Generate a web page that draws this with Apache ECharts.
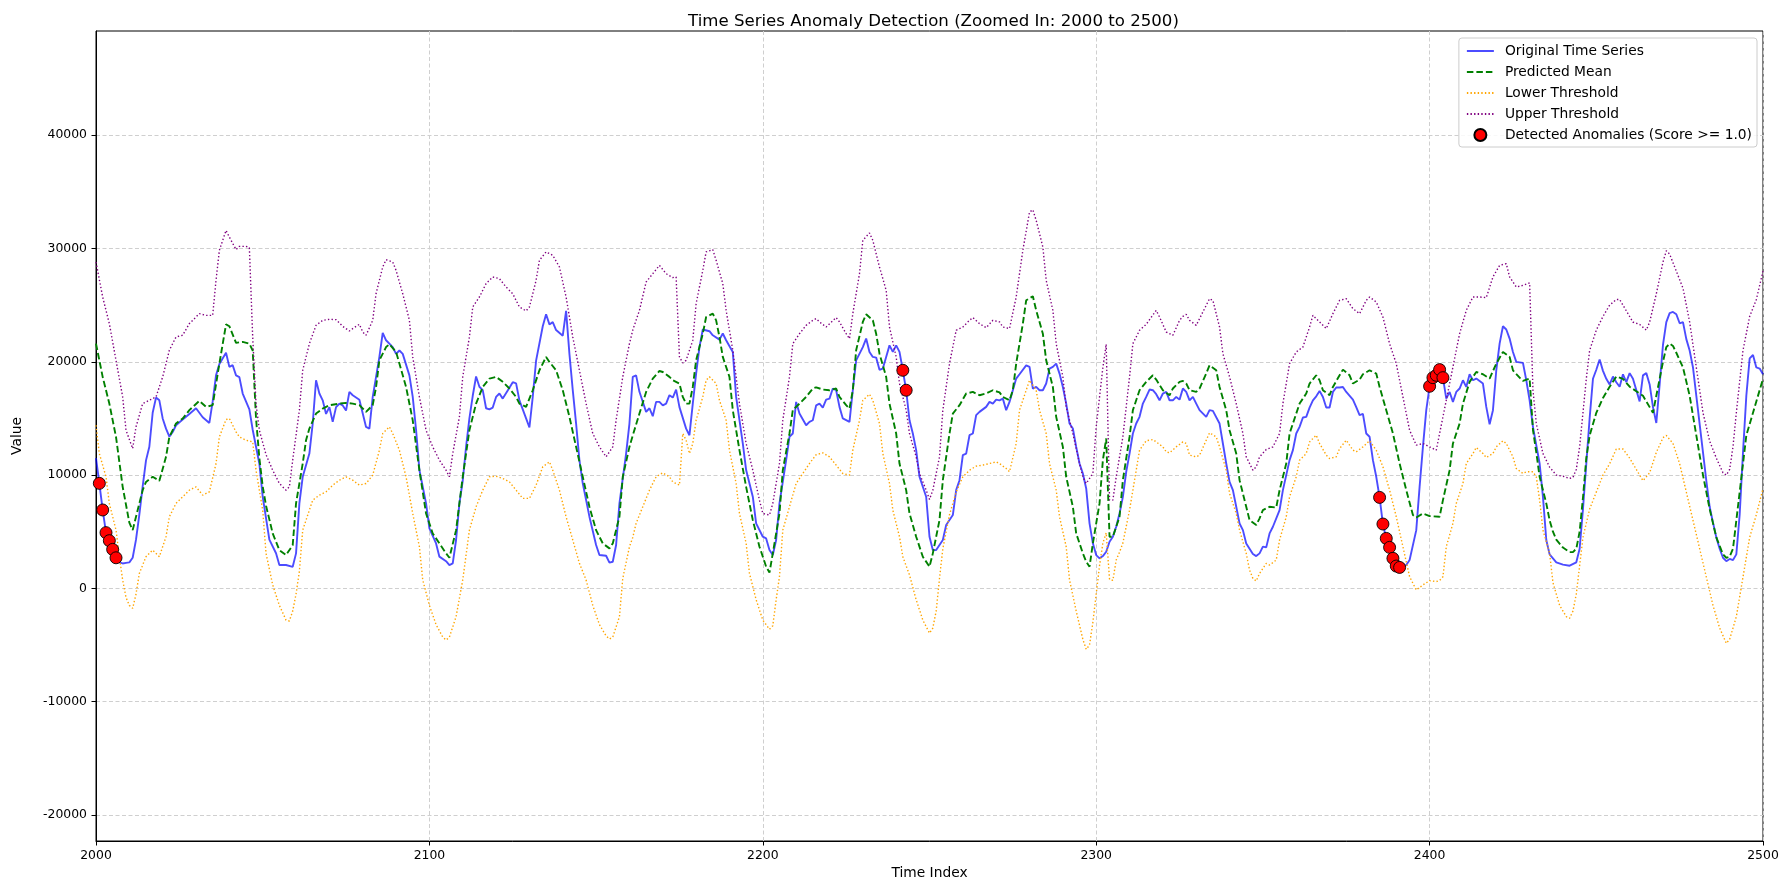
<!DOCTYPE html>
<html>
<head>
<meta charset="utf-8">
<script src="https://cdn.jsdelivr.net/npm/echarts@6/dist/echarts.min.js"></script>
<style>html,body{margin:0;padding:0;background:#fff}#c{width:1789px;height:889px}</style>
</head>
<body>
<div id="c"></div>
<script>
const titleText = 'Time Series Anomaly Detection (Zoomed In: 2000 to 2500)';
const seriesNames = ['Original Time Series', 'Predicted Mean', 'Lower Threshold', 'Upper Threshold', 'Detected Anomalies (Score >= 1.0)'];
const xTicks = [2000, 2100, 2200, 2300, 2400, 2500];
const yTicks = [-20000, -10000, 0, 10000, 20000, 30000, 40000];

const original = [[2000,11500],[2001,9270],[2002,6920],[2003,4920],[2004,4210],[2005,3440],[2006,2700],[2007,2300],[2008,2200],[2009,2250],[2010,2300],[2011,2700],[2012,4300],[2013,6500],[2014,9000],[2015,11300],[2016,12500],[2017,15500],[2018,16840],[2019,16600],[2020,15000],[2021,14100],[2022,13400],[2023,13800],[2024,14400],[2026,14900],[2028,15400],[2030,15900],[2032,15100],[2034,14600],[2035,16500],[2036,18800],[2037,19800],[2039,20800],[2040,19550],[2041,19700],[2042,18800],[2043,18650],[2044,17200],[2046,15800],[2047,14000],[2049,11000],[2050,8100],[2052,4300],[2054,3100],[2055,2060],[2057,2060],[2059,1900],[2060,3090],[2061,7500],[2062,9850],[2064,11900],[2065,14550],[2066,18370],[2067,17200],[2068,16600],[2069,15400],[2070,16000],[2071,14700],[2072,16000],[2073,16300],[2074,16150],[2075,15700],[2076,17350],[2077,17050],[2079,16650],[2081,14250],[2082,14100],[2083,16900],[2085,20440],[2086,22550],[2087,21900],[2089,21300],[2090,20700],[2091,21000],[2092,20700],[2094,18800],[2095,16900],[2096,14000],[2097,10450],[2099,7500],[2100,5300],[2102,3970],[2103,2800],[2105,2400],[2106,2060],[2107,2200],[2108,4270],[2109,7500],[2110,9500],[2111,12500],[2112,15000],[2113,17000],[2114,18700],[2115,17800],[2116,17500],[2117,15900],[2118,15800],[2119,15960],[2120,16900],[2121,17200],[2122,16750],[2124,17700],[2125,18200],[2126,18100],[2127,16600],[2129,15000],[2130,14200],[2131,16900],[2132,20100],[2134,23140],[2135,24200],[2136,23300],[2137,23500],[2138,22800],[2140,22300],[2141,24500],[2142,20700],[2143,17500],[2144,14550],[2145,11300],[2146,9270],[2148,6330],[2150,3830],[2151,2950],[2153,2880],[2154,2270],[2155,2350],[2156,3830],[2157,7500],[2159,11900],[2160,14550],[2161,18670],[2162,18800],[2163,17350],[2165,15580],[2166,15900],[2167,15200],[2168,16460],[2169,16460],[2170,16150],[2171,16300],[2172,17050],[2173,16840],[2174,17550],[2175,16000],[2177,14100],[2178,13520],[2179,16300],[2180,18960],[2181,21300],[2182,22850],[2184,22700],[2185,22340],[2187,21960],[2188,22500],[2189,21900],[2191,20870],[2192,16900],[2194,12800],[2195,10440],[2197,8090],[2198,5740],[2200,4560],[2201,4410],[2202,3380],[2203,2940],[2204,4270],[2205,7500],[2207,11320],[2208,13380],[2209,13670],[2210,16460],[2211,15430],[2213,14400],[2214,14700],[2215,14840],[2216,16150],[2217,16300],[2218,15960],[2219,16660],[2220,16750],[2221,17640],[2222,17490],[2223,16020],[2224,15000],[2226,14700],[2227,17490],[2228,20130],[2230,21300],[2231,22050],[2232,20870],[2233,20430],[2234,20370],[2235,19300],[2236,19400],[2237,20430],[2238,21450],[2239,20870],[2240,21450],[2241,20870],[2242,19250],[2243,17490],[2244,14840],[2245,13670],[2246,12200],[2247,9850],[2249,8090],[2250,4560],[2251,3380],[2252,3380],[2254,4270],[2255,5590],[2257,6470],[2258,8680],[2259,9550],[2260,11760],[2261,11900],[2262,13520],[2263,13670],[2264,15290],[2265,15580],[2267,16020],[2268,16460],[2269,16310],[2270,16660],[2271,16600],[2272,16750],[2273,15730],[2274,16460],[2275,17490],[2276,18520],[2277,18900],[2279,19690],[2280,19550],[2281,17640],[2282,17780],[2283,17490],[2284,17490],[2285,18080],[2286,19400],[2287,19550],[2288,19840],[2289,18960],[2290,17780],[2291,16310],[2292,14550],[2293,14110],[2294,12490],[2295,11020],[2296,10140],[2297,8820],[2298,5740],[2299,3980],[2300,2940],[2301,2650],[2302,2850],[2303,3230],[2304,4120],[2305,4560],[2306,5440],[2307,6610],[2308,8080],[2309,10290],[2310,11900],[2311,13670],[2312,14550],[2313,15140],[2314,16310],[2315,16900],[2316,17550],[2317,17490],[2318,17140],[2319,16600],[2320,17200],[2321,17340],[2322,16600],[2323,16600],[2324,16900],[2325,16660],[2326,17640],[2327,17340],[2328,16600],[2329,16900],[2330,16310],[2331,15730],[2333,15140],[2334,15730],[2335,15670],[2337,14550],[2338,12790],[2339,11020],[2340,9400],[2341,8670],[2342,7200],[2343,5730],[2344,5140],[2345,3970],[2347,3030],[2348,2850],[2349,3090],[2350,3680],[2351,3620],[2352,4850],[2353,5440],[2355,6910],[2356,8670],[2358,11320],[2359,12200],[2360,13670],[2361,14260],[2362,15080],[2363,15140],[2364,15960],[2365,16600],[2366,16950],[2367,17430],[2368,16900],[2369,15960],[2370,15960],[2371,17340],[2372,17730],[2373,17730],[2374,17780],[2375,17340],[2377,16660],[2378,16000],[2379,15300],[2380,15400],[2381,13670],[2382,13380],[2383,11320],[2384,9850],[2385,8030],[2386,5680],[2387,4410],[2388,3620],[2389,2650],[2390,1970],[2391,1850],[2393,2060],[2394,2500],[2396,5140],[2397,8960],[2398,12490],[2399,15730],[2400,17840],[2401,18600],[2402,18810],[2403,19310],[2404,18600],[2405,16750],[2406,17340],[2407,16460],[2408,17340],[2409,17640],[2410,18370],[2411,17780],[2412,18900],[2413,18370],[2414,18520],[2416,18080],[2417,16020],[2418,14490],[2419,15730],[2420,19250],[2421,21600],[2422,23140],[2423,22850],[2424,22050],[2425,20870],[2426,19990],[2428,19900],[2429,18370],[2430,16600],[2431,14260],[2433,11020],[2434,8080],[2435,4270],[2436,3000],[2438,2300],[2440,2100],[2442,2000],[2444,2300],[2445,3500],[2446,7000],[2447,11000],[2448,15000],[2449,18500],[2450,19300],[2451,20200],[2452,19200],[2453,18500],[2454,18000],[2455,18700],[2456,18200],[2457,17800],[2458,18900],[2459,18200],[2460,19000],[2461,18500],[2462,17500],[2463,16500],[2464,18800],[2465,19000],[2466,18000],[2467,16000],[2468,14600],[2469,18000],[2470,21500],[2471,23500],[2472,24300],[2473,24400],[2474,24200],[2475,23400],[2476,23500],[2477,22000],[2478,21000],[2479,19500],[2480,17000],[2481,14500],[2482,12000],[2483,9500],[2484,7200],[2485,5800],[2486,4500],[2487,3500],[2488,2700],[2489,2400],[2490,2600],[2491,2500],[2492,3000],[2493,6500],[2494,12000],[2495,17000],[2496,20300],[2497,20600],[2498,19500],[2499,19400],[2500,18900]];

const predicted = [[2000,21600],[2002,18670],[2004,16310],[2006,13370],[2008,8960],[2010,5800],[2011,5140],[2012,6320],[2014,8670],[2015,9400],[2017,9850],[2019,9490],[2021,11610],[2022,13370],[2024,14550],[2026,14990],[2028,15730],[2031,16550],[2033,16020],[2035,16170],[2037,19840],[2039,23300],[2040,23140],[2042,21670],[2044,21760],[2046,21600],[2047,21000],[2048,15000],[2049,11500],[2050,9000],[2051,7300],[2053,4850],[2055,3380],[2057,2940],[2059,3820],[2060,7500],[2062,11020],[2063,13080],[2064,14110],[2066,15430],[2068,15870],[2070,16170],[2073,16310],[2075,16370],[2077,16310],[2079,16170],[2081,15580],[2083,16170],[2084,17780],[2085,20130],[2087,21300],[2088,21550],[2090,20870],[2091,19840],[2093,17780],[2095,14840],[2097,10430],[2099,6610],[2101,4850],[2103,3970],[2105,3090],[2106,2700],[2108,5140],[2110,9850],[2112,13960],[2114,16310],[2116,17780],[2118,18520],[2120,18670],[2122,18230],[2124,17640],[2126,16900],[2127,16310],[2129,16020],[2131,17490],[2133,19250],[2135,20430],[2136,19990],[2138,19250],[2140,17490],[2142,15140],[2144,12490],[2146,9850],[2148,7200],[2150,5140],[2152,3970],[2154,3530],[2155,3970],[2157,6320],[2158,9850],[2160,12490],[2161,13500],[2163,15430],[2165,17340],[2167,18520],[2169,19190],[2170,19100],[2172,18670],[2173,18370],[2175,18080],[2176,16900],[2177,16310],[2178,16310],[2179,17780],[2180,20130],[2182,22480],[2183,23950],[2185,24250],[2186,23660],[2187,22190],[2188,20430],[2190,18670],[2191,15730],[2193,12200],[2195,8960],[2197,6030],[2199,3680],[2201,1920],[2202,1390],[2203,3090],[2205,6610],[2206,10430],[2208,13670],[2209,15730],[2211,16310],[2213,16900],[2215,17640],[2216,17750],[2218,17550],[2220,17490],[2222,17640],[2223,16900],[2225,16170],[2226,15870],[2227,17490],[2228,21020],[2230,23520],[2231,24190],[2233,23660],[2234,22480],[2235,20720],[2237,18670],[2238,16310],[2240,13670],[2241,11020],[2243,8670],[2244,6610],[2246,4560],[2248,2790],[2250,1910],[2251,3090],[2253,6030],[2254,9550],[2256,13670],[2257,15430],[2259,16170],[2261,17200],[2263,17340],[2265,17050],[2267,17200],[2269,17490],[2271,17300],[2272,16900],[2274,16600],[2275,17490],[2276,19840],[2278,23370],[2279,25430],[2281,25780],[2282,24540],[2284,22480],[2285,20130],[2287,17780],[2288,15140],[2290,12490],[2291,9850],[2293,7200],[2294,4850],[2296,3090],[2297,2350],[2298,1910],[2299,3970],[2301,7500],[2302,11320],[2303,13230],[2304,4560],[2305,4560],[2307,6320],[2308,9550],[2310,13370],[2311,15730],[2313,17490],[2315,18230],[2317,18810],[2318,18430],[2320,17490],[2322,17050],[2323,17640],[2325,18230],[2326,18310],[2327,18080],[2328,17490],[2330,17340],[2331,17640],[2333,18960],[2334,19690],[2336,19250],[2337,17780],[2339,15730],[2340,13960],[2342,11900],[2343,9550],[2345,7200],[2346,6030],[2348,5590],[2349,6180],[2350,6910],[2352,7200],[2354,7140],[2355,8670],[2357,11020],[2358,13670],[2360,15430],[2361,16310],[2363,17200],[2364,18080],[2366,18810],[2367,18370],[2368,17490],[2370,17050],[2371,17780],[2373,18810],[2374,19310],[2376,18810],[2377,18080],[2379,18430],[2380,18900],[2382,19250],[2384,18960],[2385,17780],[2387,15730],[2389,13670],[2391,11020],[2393,8670],[2395,6470],[2396,6260],[2398,6610],[2400,6380],[2403,6320],[2404,7790],[2406,10430],[2407,12790],[2409,14550],[2410,16310],[2412,18230],[2414,19100],[2416,18900],[2418,18520],[2420,19840],[2422,20870],[2424,20430],[2425,19250],[2427,18600],[2428,18310],[2430,18520],[2431,14000],[2432,12000],[2433,9850],[2435,7500],[2436,6000],[2437,5000],[2438,4300],[2440,3600],[2442,3200],[2443,3200],[2444,3500],[2445,5000],[2446,8000],[2447,11500],[2448,13500],[2450,15500],[2452,16800],[2454,17800],[2456,18700],[2458,18500],[2460,17800],[2462,17400],[2464,17000],[2466,16000],[2467,15500],[2468,17000],[2470,20000],[2471,21300],[2472,21600],[2473,21400],[2474,20800],[2476,19500],[2478,17000],[2480,13500],[2482,10000],[2484,7000],[2486,4500],[2488,3000],[2489,2700],[2490,2800],[2491,3500],[2492,6000],[2494,11000],[2495,13500],[2497,15500],[2499,17500],[2500,18500]];

const lower = [[2000,14400],[2001,11900],[2003,9850],[2004,7500],[2006,5150],[2007,2800],[2008,740],[2009,-800],[2010,-1500],[2011,-1760],[2012,-500],[2013,1320],[2015,2800],[2017,3380],[2019,2800],[2021,4560],[2022,6320],[2024,7500],[2026,8080],[2028,8670],[2030,8960],[2032,8230],[2034,8520],[2036,11020],[2037,13370],[2039,14900],[2040,14990],[2042,13810],[2043,13370],[2045,13080],[2047,12930],[2048,10430],[2050,6910],[2051,3090],[2053,300],[2055,-1500],[2057,-2800],[2058,-2880],[2059,-2000],[2060,-500],[2061,1500],[2062,5140],[2064,6910],[2065,7790],[2067,8230],[2069,8520],[2071,9110],[2073,9550],[2075,9850],[2077,9550],[2079,9110],[2081,9260],[2083,9990],[2085,12200],[2086,13670],[2088,14260],[2089,13670],[2091,12200],[2093,9850],[2095,6610],[2097,3670],[2098,740],[2100,-1500],[2102,-3200],[2104,-4300],[2105,-4560],[2106,-4300],[2108,-2500],[2110,740],[2112,5140],[2114,7200],[2116,8670],[2118,9850],[2120,9900],[2122,9700],[2124,9400],[2126,8670],[2128,7940],[2130,7940],[2132,9110],[2134,10730],[2136,11170],[2137,10430],[2139,8670],[2141,6320],[2143,4270],[2145,2210],[2147,740],[2149,-1500],[2151,-3200],[2153,-4200],[2154,-4470],[2155,-4300],[2157,-2500],[2158,880],[2160,3670],[2161,4500],[2162,5740],[2164,7200],[2166,8670],[2168,9850],[2170,10200],[2172,9850],[2173,9400],[2175,9110],[2176,13670],[2177,13080],[2178,11900],[2179,12790],[2180,14840],[2182,16900],[2183,18370],[2184,18670],[2186,18080],[2187,16600],[2189,14840],[2190,12200],[2192,9260],[2193,6610],[2195,3970],[2196,1320],[2198,-1000],[2200,-2800],[2202,-3610],[2203,-3300],[2204,-1000],[2205,1030],[2206,5140],[2208,7200],[2210,9260],[2212,10140],[2214,11020],[2216,11800],[2218,11960],[2220,11610],[2222,10880],[2224,10140],[2226,9990],[2227,12200],[2229,14840],[2230,16600],[2232,17140],[2233,16600],[2235,14550],[2236,11900],[2238,9260],[2239,6910],[2241,4560],[2242,2790],[2244,1180],[2246,-1000],[2248,-2800],[2250,-3950],[2251,-3500],[2252,-2000],[2253,880],[2254,3500],[2256,6500],[2258,8500],[2260,9850],[2262,10430],[2264,10790],[2266,10880],[2268,11020],[2270,11170],[2271,11020],[2273,10580],[2274,10290],[2276,12790],[2277,15730],[2279,17490],[2280,18370],[2282,17490],[2283,15730],[2285,13670],[2286,11020],[2288,8670],[2289,6320],[2291,3670],[2292,740],[2294,-2000],[2296,-4500],[2297,-5380],[2298,-5000],[2299,-3000],[2300,-500],[2301,2000],[2302,4000],[2303,4900],[2304,800],[2305,700],[2306,2500],[2307,3200],[2308,4000],[2310,6910],[2312,10430],[2313,12200],[2315,13030],[2317,13140],[2318,12930],[2320,12490],[2321,12050],[2322,11960],[2324,12490],[2326,12930],[2327,12790],[2328,11760],[2330,11610],[2331,11760],[2333,13080],[2334,13730],[2336,13370],[2337,12490],[2339,10430],[2340,8380],[2342,6610],[2343,5140],[2345,3090],[2346,1620],[2347,880],[2348,650],[2349,1320],[2351,2210],[2352,2060],[2354,2500],[2355,4270],[2357,6320],[2358,8080],[2360,9850],[2361,11320],[2363,11900],[2364,12930],[2366,13520],[2367,12790],[2369,11760],[2370,11460],[2372,11610],[2373,12340],[2375,13080],[2377,12200],[2378,12050],[2380,12490],[2382,13030],[2384,12200],[2386,10730],[2388,8670],[2390,6320],[2392,3670],[2394,1030],[2396,-140],[2398,300],[2400,680],[2402,600],[2403,700],[2404,1030],[2405,3670],[2407,5740],[2408,7500],[2410,9260],[2411,11020],[2413,11900],[2414,12440],[2416,11900],[2417,11550],[2419,11900],[2420,12490],[2422,13030],[2423,12790],[2425,11610],[2426,10580],[2428,10140],[2429,10290],[2431,10290],[2432,9850],[2433,7790],[2434,5140],[2436,3090],[2437,500],[2439,-1500],[2441,-2500],[2442,-2640],[2443,-2000],[2444,-500],[2445,2000],[2446,4500],[2448,7000],[2450,8500],[2452,10000],[2454,11000],[2456,12300],[2458,12300],[2460,11500],[2462,10500],[2464,9500],[2466,10200],[2468,12000],[2470,13300],[2471,13500],[2473,12800],[2475,11000],[2477,8500],[2479,6000],[2481,3500],[2483,1000],[2485,-1500],[2487,-3500],[2489,-4850],[2490,-4500],[2492,-2500],[2494,1000],[2496,4500],[2498,6500],[2500,8800]];

const upper = [[2000,28800],[2002,25720],[2004,23370],[2006,20130],[2008,16900],[2009,13960],[2011,12340],[2012,14260],[2014,16310],[2016,16600],[2018,16900],[2020,18670],[2022,21020],[2024,22190],[2026,22340],[2028,23370],[2031,24250],[2033,24100],[2035,24100],[2036,27190],[2037,29840],[2039,31600],[2040,31010],[2042,29900],[2043,30190],[2045,30190],[2046,30070],[2047,22190],[2048,16310],[2049,13960],[2051,11800],[2053,10430],[2055,9260],[2057,8670],[2058,8960],[2059,11320],[2061,15730],[2062,19250],[2064,21600],[2066,23220],[2068,23660],[2070,23750],[2072,23720],[2074,23130],[2076,22720],[2077,22930],[2079,23310],[2080,22630],[2081,22340],[2083,23660],[2084,26010],[2086,28370],[2087,29010],[2089,28810],[2090,28070],[2092,26010],[2094,23660],[2095,20430],[2097,16900],[2099,13960],[2101,12490],[2103,11320],[2105,10430],[2106,9850],[2107,11900],[2109,15140],[2110,18670],[2112,22190],[2113,24840],[2115,25720],[2117,26900],[2119,27490],[2121,27340],[2123,26600],[2125,26010],[2127,24840],[2129,24490],[2130,24840],[2132,27190],[2133,28960],[2135,29700],[2137,29400],[2139,28370],[2141,25720],[2143,22190],[2145,19250],[2147,16310],[2149,13670],[2151,12490],[2153,11610],[2155,12490],[2156,14840],[2158,18670],[2160,21600],[2161,22800],[2163,24540],[2165,27040],[2167,27780],[2169,28510],[2171,27780],[2173,27430],[2174,27490],[2175,20430],[2176,19900],[2177,20130],[2179,21890],[2180,25130],[2182,28070],[2183,29700],[2185,29900],[2186,28960],[2188,26900],[2189,24540],[2191,21020],[2193,16310],[2195,12790],[2197,10430],[2199,7790],[2200,6610],[2202,6470],[2203,7500],[2205,11020],[2206,14840],[2208,18670],[2209,21600],[2211,22480],[2213,23220],[2215,23660],[2216,23810],[2217,23520],[2219,23070],[2222,23900],[2223,23520],[2225,22480],[2226,22040],[2227,24250],[2229,27780],[2230,30720],[2232,31370],[2233,30720],[2235,28370],[2237,26310],[2238,23070],[2240,20430],[2241,18080],[2243,15730],[2244,13670],[2246,11610],[2247,10140],[2249,8670],[2250,7850],[2251,8670],[2253,11610],[2254,15730],[2256,19840],[2258,22780],[2260,23070],[2262,23660],[2263,23900],[2265,23370],[2267,23010],[2269,23660],[2271,23520],[2272,23070],[2274,22930],[2276,25720],[2278,29840],[2280,33220],[2281,33420],[2282,32480],[2284,30130],[2285,27190],[2287,24540],[2288,21600],[2290,18670],[2291,16020],[2293,13670],[2295,11020],[2296,9850],[2297,9260],[2299,10140],[2300,14260],[2302,19500],[2303,21550],[2304,7790],[2305,7790],[2306,9850],[2308,13370],[2310,18670],[2311,21600],[2313,22780],[2315,23310],[2318,24540],[2319,23950],[2321,22630],[2323,22340],[2325,23660],[2326,24010],[2327,24190],[2328,23660],[2330,23220],[2332,24400],[2334,25570],[2335,25420],[2337,23070],[2338,20720],[2340,18670],[2342,16310],[2344,13670],[2345,11610],[2347,10430],[2348,10730],[2349,11610],[2351,12260],[2353,12490],[2355,13670],[2356,16310],[2358,19840],[2360,20870],[2362,21300],[2364,23070],[2365,24100],[2367,23520],[2369,22930],[2371,24250],[2373,25420],[2375,25570],[2377,24690],[2379,24250],[2381,25420],[2382,25720],[2384,25280],[2386,23950],[2388,21600],[2390,19840],[2392,16900],[2394,13960],[2396,12640],[2398,12790],[2400,12490],[2402,12200],[2403,13670],[2405,16600],[2407,19550],[2409,22480],[2411,24540],[2413,25720],[2415,25720],[2417,25660],[2419,27490],[2421,28510],[2423,28660],[2424,27490],[2426,26600],[2428,26750],[2430,26960],[2431,17500],[2432,14550],[2434,11900],[2436,10700],[2438,10000],[2440,9900],[2442,9700],[2443,9800],[2444,10500],[2445,12500],[2446,15500],[2447,18500],[2448,21000],[2450,22800],[2452,24000],[2454,25000],[2456,25500],[2457,25500],[2459,24500],[2461,23500],[2463,23300],[2465,22800],[2466,23500],[2468,26000],[2470,28800],[2471,29800],[2472,29500],[2474,28000],[2476,26500],[2478,23500],[2480,19500],[2482,15500],[2484,13000],[2486,11500],[2488,10200],[2489,10000],[2490,10500],[2491,12500],[2492,15500],[2494,21000],[2496,24000],[2498,25500],[2500,28000]];

const anomalies = [[2001,9270],[2002,6920],[2003,4920],[2004,4210],[2005,3440],[2006,2700],[2242,19250],[2243,17490],[2385,8030],[2386,5680],[2387,4410],[2388,3620],[2389,2650],[2390,1970],[2391,1850],[2400,17840],[2401,18600],[2402,18810],[2403,19310],[2404,18600]];

const FONT = 'DejaVu Sans';
const hideSymbol = {opacity: 0};
const chart = echarts.init(document.getElementById('c'), null, {renderer: 'canvas'});
chart.setOption({
  animation: false,
  backgroundColor: '#ffffff',
  title: {
    text: titleText, left: 683, top: 8,
    textStyle: {fontFamily: FONT, fontSize: 16.6, fontWeight: 'normal', color: '#000'}
  },
  legend: {
    orient: 'vertical', right: 32, top: 38,
    itemWidth: 27, itemHeight: 12, itemGap: 7,
    backgroundColor: 'rgba(255,255,255,0.85)', borderColor: '#cccccc', borderWidth: 1, borderRadius: 3,
    padding: [6, 5, 5, 7],
    textStyle: {fontFamily: FONT, fontSize: 13.8, color: '#000', padding: [0, 0, 0, 6]},
    data: [
      {name: seriesNames[0], itemStyle: hideSymbol},
      {name: seriesNames[1], itemStyle: hideSymbol},
      {name: seriesNames[2], itemStyle: hideSymbol},
      {name: seriesNames[3], itemStyle: hideSymbol},
      {name: seriesNames[4]}
    ]
  },
  grid: {left: 96, right: 26, top: 31, bottom: 48, show: true, borderColor: '#000', borderWidth: 1, backgroundColor: 'transparent'},
  xAxis: {
    type: 'value', min: 2000, max: 2500, interval: 100,
    name: 'Time Index', nameLocation: 'middle', nameGap: 24,
    nameTextStyle: {fontFamily: FONT, fontSize: 13.8, color: '#000'},
    axisLine: {show: true, onZero: false, lineStyle: {color: '#000', width: 1}},
    axisTick: {show: true, length: 4.5, lineStyle: {color: '#000'}, customValues: xTicks},
    axisLabel: {fontFamily: FONT, fontSize: 12.4, color: '#000', margin: 9, customValues: xTicks,
      formatter: v => String(v)},
    splitLine: {show: true, lineStyle: {color: '#cfcfcf', type: [4, 2.5], width: 1}}
  },
  yAxis: {
    type: 'value', min: -22300, max: 49200, splitNumber: 7,
    name: 'Value', nameLocation: 'middle', nameGap: 72,
    nameTextStyle: {fontFamily: FONT, fontSize: 13.8, color: '#000'},
    axisLine: {show: true, onZero: false, lineStyle: {color: '#000', width: 1}},
    axisTick: {show: true, length: 4.5, lineStyle: {color: '#000'}, customValues: yTicks},
    axisLabel: {fontFamily: FONT, fontSize: 12.4, color: '#000', margin: 9, customValues: yTicks,
      formatter: v => (v % 10000 === 0 ? String(v) : '')},
    splitLine: {show: true, lineStyle: {color: '#cfcfcf', type: [4, 2.5], width: 1}}
  },
  series: [
    {name: seriesNames[0], type: 'line', data: original, symbol: 'none', clip: true,
      lineStyle: {color: 'rgba(0,0,255,0.7)', width: 1.9}, itemStyle: {color: 'rgba(0,0,255,0.7)'}},
    {name: seriesNames[1], type: 'line', data: predicted, symbol: 'none', clip: true,
      lineStyle: {color: '#008000', width: 1.9, type: [6.5, 3]}, itemStyle: {color: '#008000'}},
    {name: seriesNames[2], type: 'line', data: lower, symbol: 'none', clip: true,
      lineStyle: {color: '#FFA500', width: 1.4, type: [1.4, 2.2]}, itemStyle: {color: '#FFA500'}},
    {name: seriesNames[3], type: 'line', data: upper, symbol: 'none', clip: true,
      lineStyle: {color: '#800080', width: 1.4, type: [1.4, 2.2]}, itemStyle: {color: '#800080'}},
    {name: seriesNames[4], type: 'scatter', data: anomalies, symbol: 'circle', symbolSize: 12, z: 5,
      itemStyle: {color: '#ff0000', opacity: 1, borderColor: '#000', borderWidth: 0.9}}
  ]
});
</script>
</body>
</html>
